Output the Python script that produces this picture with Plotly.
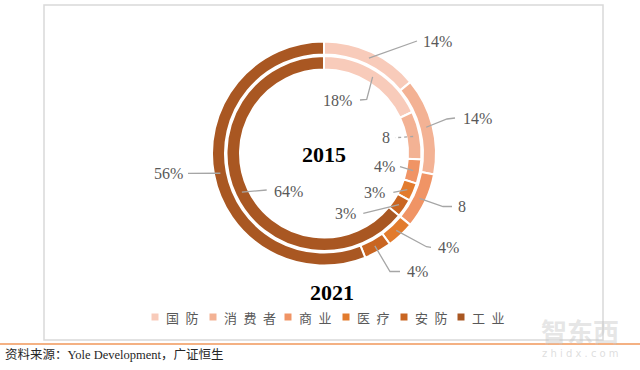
import math
import plotly.graph_objects as go

# ---------------- data ----------------
categories = ["国防", "消费者", "商业", "医疗", "安防", "工业"]
values_2021 = [14, 14, 8, 4, 4, 56]          # outer ring
values_2015 = [18, 8, 4, 3, 3, 64]           # inner ring
labels_2021 = ["14%", "14%", "8", "4%", "4%", "56%"]
labels_2015 = ["18%", "8", "4%", "3%", "3%", "64%"]
colors = ["#F8CBBA", "#F3B294", "#F09465", "#E27B2D", "#C96521", "#A95722"]
source_text = "资料来源：Yole Development，广证恒生"

# ---------------- layout helpers ----------------
W, H = 640, 370
CX, CY = 324, 153.5
R_OUT, HOLE_OUT = 112, 99
R_IN, HOLE_IN = 97.5, 84


def px(x, y):
    return x / W, 1 - y / H


def domain(r):
    x0, y0 = px(CX - r, CY + r)
    x1, y1 = px(CX + r, CY - r)
    return dict(x=[x0, x1], y=[y0, y1])


def mid_points(values, radius):
    total = sum(values)
    pts, cum = [], 0
    for v in values:
        a = math.radians((cum + v / 2) / total * 360)
        pts.append((CX + radius * math.sin(a), CY - radius * math.cos(a)))
        cum += v
    return pts


fig = go.Figure()
fig.add_trace(go.Pie(
    labels=categories, values=values_2021, sort=False, direction="clockwise",
    rotation=0, hole=HOLE_OUT / R_OUT, domain=domain(R_OUT), textinfo="none",
    marker=dict(colors=colors, line=dict(color="white", width=2)),
    showlegend=False, name="2021"))
fig.add_trace(go.Pie(
    labels=categories, values=values_2015, sort=False, direction="clockwise",
    rotation=0, hole=HOLE_IN / R_IN, domain=domain(R_IN), textinfo="none",
    marker=dict(colors=colors, line=dict(color="white", width=2)),
    showlegend=False, name="2015"))

# label placement (pixel positions of elbows / text)
outer_place = [
    ([(417, 41)], 421, 41.5, "left"),
    ([(447, 119), (455, 118)], 461, 118, "left"),
    ([(443, 206.5), (452, 206.5)], 456, 206.5, "left"),
    ([(426.5, 246.7), (431, 247.3)], 436, 247.3, "left"),
    ([(390, 271.5), (400, 271.5)], 405, 271.5, "left"),
    ([(188, 173.3)], 185, 173.3, "right"),
]
inner_place = [
    ([(366.7, 99.3), (360, 100)], 354, 100, "right"),
    ([(395, 137.7)], 392, 137.7, "right"),
    ([(400, 166.7)], 397, 166.7, "right"),
    ([(393.3, 192.3)], 387, 192.3, "right"),
    ([(363.3, 213.3)], 358, 213.3, "right"),
    ([(266.7, 190)], 272, 191.7, "left"),
]

shapes, annotations = [], []
label_font = dict(family="Liberation Serif, Times New Roman, serif", size=16, color="#595959")

for pts, texts, places, dotted_idx in [
    (mid_points(values_2021, (R_OUT - 1 + HOLE_OUT + 1) / 2), labels_2021, outer_place, None),
    (mid_points(values_2015, (R_IN - 1 + HOLE_IN + 1) / 2), labels_2015, inner_place, 1),
]:
    for i, (anchor, txt, place) in enumerate(zip(pts, texts, places)):
        elbows, tx, ty, xa = place
        chain = [anchor] + elbows
        path = "M " + " L ".join(
            f"{px(x, y)[0]:.5f},{px(x, y)[1]:.5f}" for x, y in chain)
        shapes.append(dict(type="path", path=path, xref="paper", yref="paper",
                           line=dict(color="#A6A6A6", width=1.3,
                                     dash="dot" if i == dotted_idx else "solid")))
        ax, ay = px(tx, ty)
        annotations.append(dict(text=txt, x=ax, y=ay, xref="paper", yref="paper",
                                xanchor=xa, yanchor="middle", showarrow=False,
                                font=label_font))

# year labels
year_font = dict(family="Liberation Serif, Times New Roman, serif", size=22, color="#000000")
for txt, (x, y) in [("2015", (323.5, 155)), ("2021", (332, 292))]:
    ax, ay = px(x, y)
    annotations.append(dict(text=f"<b>{txt}</b>", x=ax, y=ay, xref="paper", yref="paper",
                            xanchor="center", yanchor="middle", showarrow=False,
                            font=year_font))

# custom legend
legend_sq_x = [155, 213, 288, 346, 404, 461]
LEG_Y = 317
for cat, col, sx in zip(categories, colors, legend_sq_x):
    x0, y0 = px(sx - 3.5, LEG_Y + 3.5)
    x1, y1 = px(sx + 3.5, LEG_Y - 3.5)
    shapes.append(dict(type="rect", xref="paper", yref="paper", x0=x0, y0=y0,
                       x1=x1, y1=y1, fillcolor=col, line=dict(width=0)))
    ax, ay = px(sx + 9, LEG_Y)
    annotations.append(dict(text="\u2002".join(cat), x=ax, y=ay, xref="paper", yref="paper",
                            xanchor="left", yanchor="middle", showarrow=False,
                            font=dict(family="Noto Sans CJK SC", size=13, color="#595959")))

# frame
fx0, fy0 = px(44, 340)
fx1, fy1 = px(603, 5)
shapes.append(dict(type="rect", xref="paper", yref="paper", x0=fx0, y0=fy0, x1=fx1, y1=fy1,
                   line=dict(color="#D9D9D9", width=1.5), fillcolor="rgba(0,0,0,0)"))
# orange rule
_, oy = px(0, 344)
shapes.append(dict(type="line", xref="paper", yref="paper", x0=0, x1=1, y0=oy, y1=oy,
                   line=dict(color="#F4B183", width=2)))

# source
sx_, sy_ = px(3, 355)
annotations.append(dict(text=source_text, x=sx_, y=sy_, xref="paper", yref="paper",
                        xanchor="left", yanchor="middle", showarrow=False,
                        font=dict(family="Liberation Serif, Noto Sans CJK SC", size=12.5,
                                  color="#262626")))

# watermark
wx, wy = px(580, 330)
annotations.append(dict(text="<b>智东西</b>", x=wx, y=wy, xref="paper", yref="paper",
                        xanchor="center", yanchor="middle", showarrow=False,
                        font=dict(family="Noto Sans CJK SC", size=26, color="rgba(200,200,200,0.45)")))
wx, wy = px(580, 353)
annotations.append(dict(text="z h i d x . c o m", x=wx, y=wy, xref="paper", yref="paper",
                        xanchor="center", yanchor="middle", showarrow=False,
                        font=dict(family="DejaVu Sans", size=10, color="rgba(200,200,200,0.6)")))

fig.update_layout(
    width=W, height=H, margin=dict(l=0, r=0, t=0, b=0),
    paper_bgcolor="white", plot_bgcolor="white",
    shapes=shapes, annotations=annotations, showlegend=False,
)
fig.write_html("out.html", config={"displayModeBar": False},
               post_script="document.body.style.margin='0';")
